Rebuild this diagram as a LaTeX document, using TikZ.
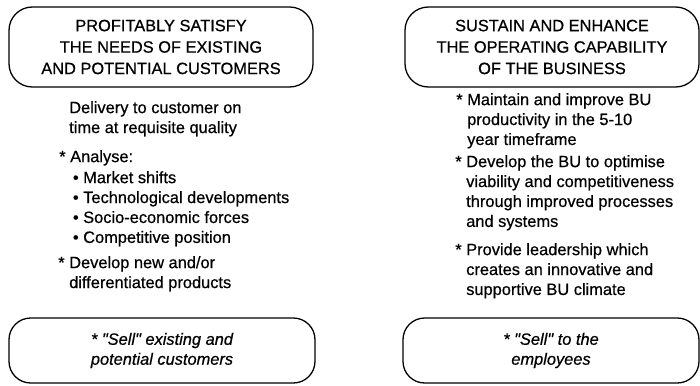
\documentclass[tikz,border=0pt]{standalone}
\usepackage{fontspec}
\setmainfont{Liberation Sans}[Ligatures=TeXOff, FakeBold=0.6]

\begin{document}
\begin{tikzpicture}[
            x=0.03cm, y=-0.03cm,
            goal/.style={draw, line width=1.1pt, rounded corners=0.7cm, align=center, inner sep=0pt, minimum height=2.4cm, font=\fontsize{14}{18.3}\selectfont},
            sell/.style={draw, line width=1.1pt, rounded corners=0.65cm, align=center, inner sep=0pt, minimum height=1.95cm, font=\fontsize{14}{17}\selectfont\itshape},
            body/.style={anchor=north west, align=left, inner sep=0pt, font=\fontsize{14}{17}\selectfont}
        ]
        \useasboundingbox (0,0) rectangle (700,385);
        % top goals
        \node[goal, minimum width=9.12cm] (needs) at (161,47) {PROFITABLY SATISFY\\THE NEEDS OF EXISTING\\AND POTENTIAL CUSTOMERS};
        \node[goal, minimum width=8.82cm] (capab) at (552,47) {SUSTAIN AND ENHANCE\\THE OPERATING CAPABILITY\\OF THE BUSINESS};
        % left column
        \node[body] (deliv) at (69,101) {Delivery to customer on\\time at requisite quality};
        \node[body] (analyse) at (70,150) {\llap{*\ }Analyse:};
        \node[body] (forces) at (83,171) {\llap{\textbullet\ }Market shifts\\\llap{\textbullet\ }Technological developments\\\llap{\textbullet\ }Socio-economic forces\\\llap{\textbullet\ }Competitive position};
        \node[body] (newprod) at (69,256) {\llap{*\ }Develop new and/or\\differentiated products};
        % right column
        \node[body] (maint) at (467,93) {\llap{*\ }Maintain and improve BU\\productivity in the 5-10\\year timeframe};
        \node[body] (optim) at (466,155) {\llap{*\ }Develop the BU to optimise\\viability and competitiveness\\through improved processes\\and systems};
        \node[body] (lead) at (466,243) {\llap{*\ }Provide leadership which\\creates an innovative and\\supportive BU climate};
        % bottom boxes
        \node[sell, minimum width=9.18cm] (sellcust) at (162,350.5) {* "Sell" existing and\\potential customers};
        \node[sell, minimum width=8.88cm] (sellemp) at (551,350.5) {* "Sell" to the\\employees};
        \end{tikzpicture}
\end{document}
